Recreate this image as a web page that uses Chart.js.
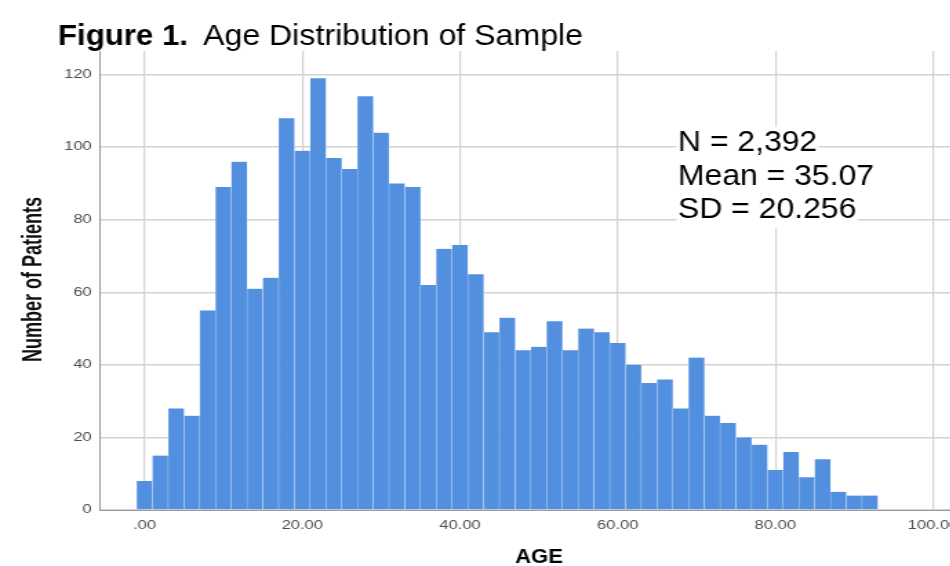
<!DOCTYPE html>
<html>
<head>
<meta charset="utf-8">
<script src="https://cdn.jsdelivr.net/npm/chart.js@4.4.1/dist/chart.umd.min.js"></script>
<style>
  html, body { margin: 0; padding: 0; background: #fff; overflow: hidden; }
  #wrap { width: 725px; height: 566px; transform: scaleX(1.37931); transform-origin: 0 0; }
</style>
</head>
<body>
<div id="wrap"><canvas id="chart" width="725" height="566"></canvas></div>
<script>
// bin centres (age), 2-year bins
const ageBins = [0, 2, 4, 6, 8, 10, 12, 14, 16, 18, 20, 22, 24, 26, 28, 30, 32, 34, 36, 38,
                 40, 42, 44, 46, 48, 50, 52, 54, 56, 58, 60, 62, 64, 66, 68, 70, 72, 74, 76, 78,
                 80, 82, 84, 86, 88, 90, 92];
const patientCounts = [8, 15, 28, 26, 55, 89, 96, 61, 64, 108, 99, 119, 97, 94, 114, 104, 90, 89, 62, 72,
                       73, 65, 49, 53, 44, 45, 52, 44, 50, 49, 46, 40, 35, 36, 28, 42, 26, 24, 20, 18,
                       11, 16, 9, 14, 5, 4, 4];
const xTickValues = [0, 20, 40, 60, 80, 100];
const xTickLabels = ['.00', '20.00', '40.00', '60.00', '80.00', '100.00'];
const yTickValues = [0, 20, 40, 60, 80, 100, 120];
const yTickLabels = ['0', '20', '40', '60', '80', '100', '120'];
const titleBold = 'Figure 1.';
const titleText = 'Age Distribution of Sample';
const statLines = ['N = 2,392', 'Mean = 35.07', 'SD = 20.256'];
const xTitle = 'AGE';
const yTitle = 'Number of Patients';

const stretch = 1000 / 725; // the picture is stretched sideways
const FONT = "'Liberation Sans', Arial, sans-serif";

// draw text in screen coordinates, with its own horizontal scale
function drawText(ctx, text, x, y, font, sx, align) {
    ctx.save();
    ctx.scale(1 / stretch, 1);
    ctx.translate(x, y);
    ctx.scale(sx, 1);
    ctx.font = font;
    ctx.textAlign = align || 'left';
    ctx.textBaseline = 'alphabetic';
    ctx.fillStyle = '#000';
    ctx.fillText(text, 0, 0);
    ctx.restore();
}

const annotations = {
    id: 'annotations',
    afterDraw(chart) {
        const ctx = chart.ctx;

        drawText(ctx, titleBold, 58, 44.5, 'bold 30px ' + FONT, 1.04);
        drawText(ctx, titleText, 203, 44.5, '30px ' + FONT, 1.07);

        // stats box, white behind each line
        const statFont = '29px ' + FONT;
        statLines.forEach((line, i) => {
            const base = 150.7 + i * 33.8;
            ctx.save();
            ctx.font = statFont;
            const w = ctx.measureText(line).width * 1.1;
            ctx.restore();
            ctx.save();
            ctx.scale(1 / stretch, 1);
            ctx.fillStyle = '#fff';
            ctx.fillRect(676.5, base - 24, w + 3, 34);
            ctx.restore();
        });
        statLines.forEach((line, i) => {
            drawText(ctx, line, 678, 150.7 + i * 33.8, statFont, 1.1);
        });

        // axis titles
        drawText(ctx, xTitle, 539, 562.5, 'bold 19.5px ' + FONT, 1.13, 'center');

        ctx.save();
        ctx.translate(41.5 / stretch, 279.5);
        ctx.rotate(-Math.PI / 2);
        ctx.scale(0.9, 1);
        ctx.font = 'bold 20px ' + FONT;
        ctx.textAlign = 'center';
        ctx.fillStyle = '#111';
        ctx.fillText(yTitle, 0, 0);
        ctx.restore();
    }
};

const ctx = document.getElementById('chart').getContext('2d');
new Chart(ctx, {
    type: 'bar',
    data: {
        datasets: [{
            label: yTitle,
            data: ageBins.map((a, i) => ({ x: a, y: patientCounts[i] })),
            backgroundColor: '#5290df',
            borderColor: '#d3e3f7',
            borderWidth: { left: 0.45, right: 0.45, top: 0, bottom: 0 },
            barPercentage: 1,
            categoryPercentage: 1,
        }],
    },
    options: {
        responsive: false,
        animation: false,
        devicePixelRatio: 1,
        layout: { padding: { top: 51, right: 16, left: 0, bottom: 0 } },
        plugins: { legend: { display: false }, tooltip: { enabled: false }, title: { display: false } },
        scales: {
            x: {
                type: 'linear',
                min: -5.66,
                max: 105.7,
                offset: false,
                afterBuildTicks: (s) => { s.ticks = xTickValues.map(v => ({ value: v })); },
                afterFit: (s) => { s.height = 56; },
                ticks: {
                    autoSkip: false,
                    maxRotation: 0,
                    padding: 8,
                    color: '#4d4d4d',
                    font: { family: FONT, size: 12 },
                    callback: (v) => xTickLabels[xTickValues.indexOf(v)],
                },
                grid: { color: '#d2d2d2', lineWidth: 1.2, drawTicks: false, offset: false },
                border: { display: true, color: '#9a9a9a', width: 1 },
            },
            y: {
                min: 0,
                max: 126.5,
                afterBuildTicks: (s) => { s.ticks = yTickValues.map(v => ({ value: v })); },
                afterFit: (s) => { s.width = 72.5; },
                ticks: {
                    padding: 6,
                    color: '#4d4d4d',
                    font: { family: FONT, size: 12 },
                    callback: (v) => yTickLabels[yTickValues.indexOf(v)],
                },
                grid: { color: '#d2d2d2', lineWidth: 1.5, drawTicks: false },
                border: { display: true, color: '#9a9a9a', width: 1 },
            },
        },
    },
    plugins: [annotations],
});
</script>
</body>
</html>
